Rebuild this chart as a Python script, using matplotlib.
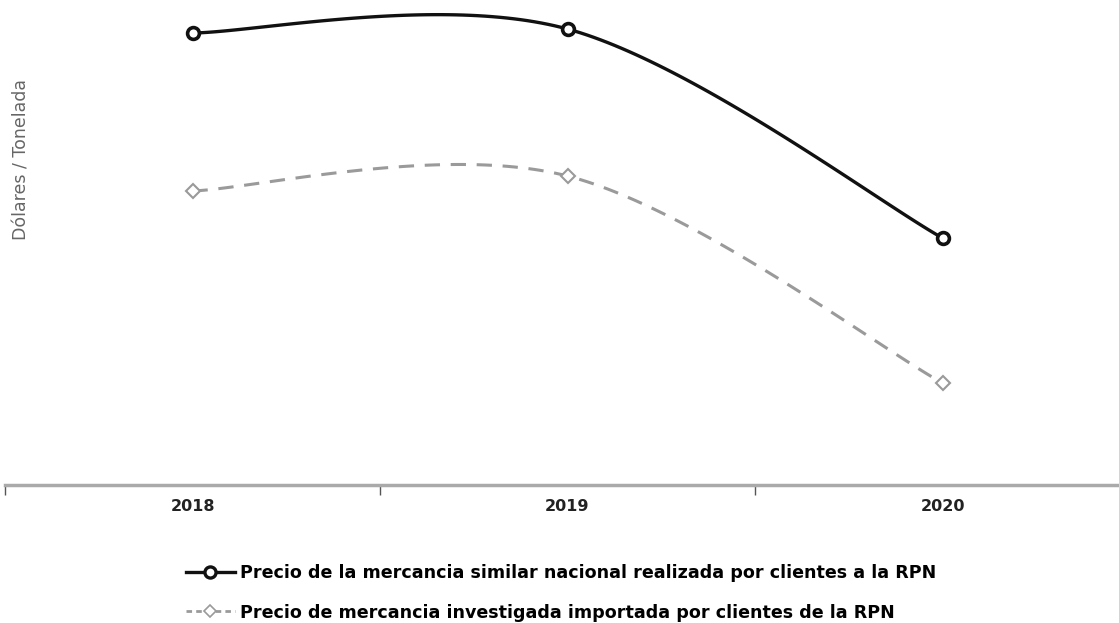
import numpy as np
import matplotlib
matplotlib.use("Agg")
import matplotlib.pyplot as plt
from matplotlib.lines import Line2D

years = ["2018", "2019", "2020"]
nacional = [452, 456, 247]      # precio mercancia similar nacional (unidades relativas)
importada = [294, 309, 102]     # precio mercancia investigada importada

lab_nac = "Precio de la mercancia similar nacional realizada por clientes a la RPN"
lab_imp = "Precio de mercancia investigada importada por clientes de la RPN"


def smooth(xs, ys, n=60):
    # Excel-style smoothed line: cubic bezier with catmull-rom control points
    p = np.column_stack([xs, ys]).astype(float)
    out = []
    for i in range(len(p) - 1):
        p0 = p[i - 1] if i > 0 else p[i]
        p1, p2 = p[i], p[i + 1]
        p3 = p[i + 2] if i + 2 < len(p) else p[i + 1]
        c1 = p1 + (p2 - p0) / 6
        c2 = p2 - (p3 - p1) / 6
        t = np.linspace(0, 1, n)[:, None]
        seg = (1 - t) ** 3 * p1 + 3 * (1 - t) ** 2 * t * c1 + 3 * (1 - t) * t ** 2 * c2 + t ** 3 * p2
        out.append(seg if i == 0 else seg[1:])
    s = np.vstack(out)
    return s[:, 0], s[:, 1]


x = np.arange(len(years))
fig = plt.figure(figsize=(11.19, 6.23), dpi=100)
ax = fig.add_axes([5 / 1119, 138 / 623, 1125 / 1119, 485 / 623])

gray = "#9a9a9a"
sx, sy = smooth(x, nacional)
ax.plot(sx, sy, color="#111111", lw=2.4, solid_capstyle="round")
ax.plot(x, nacional, ls="none", marker="o", ms=8.5, mfc="white", mec="#111111", mew=2.6)
gx, gy = smooth(x, importada)
ax.plot(gx, gy, color=gray, lw=2.2, ls=(0, (5, 3.5)))
ax.plot(x, importada, ls="none", marker="D", ms=7, mfc="white", mec=gray, mew=1.5)

ax.set_xlim(-0.5, 2.5)
ax.set_ylim(0, 485)
for s in ["top", "right", "left"]:
    ax.spines[s].set_visible(False)
ax.spines["bottom"].set_color("#aaaaaa")
ax.spines["bottom"].set_linewidth(2.5)
ax.set_yticks([])
ax.set_xticks(x)
ax.set_xticklabels(years, fontsize=11.5, fontweight="bold", color="#222222")
ax.tick_params(axis="x", which="major", length=0, pad=10)
ax.set_xticks([-0.5, 0.5, 1.5, 2.5], minor=True)
ax.tick_params(axis="x", which="minor", length=7, width=1, color="#555555")

fig.text(22 / 1119, 1 - 160 / 623, "Dólares / Tonelada", rotation=90, fontsize=12.5,
         color="#666666", ha="center", va="center")

handles = [
    Line2D([], [], color="#111111", lw=2.4, marker="o", ms=8, mfc="white", mec="#111111", mew=2.4),
    Line2D([], [], color=gray, lw=2, ls=(0, (2, 1.5)), marker="D", ms=6, mfc="white", mec=gray, mew=1.2),
]
fig.legend(handles, [lab_nac, lab_imp], loc="center", bbox_to_anchor=(561 / 1119, 1 - 593 / 623),
           frameon=False, handlelength=2.8, handletextpad=0.3, labelspacing=1.2,
           prop={"weight": "bold", "size": 12.6})

fig.savefig("out.png", dpi=100, facecolor="white")
